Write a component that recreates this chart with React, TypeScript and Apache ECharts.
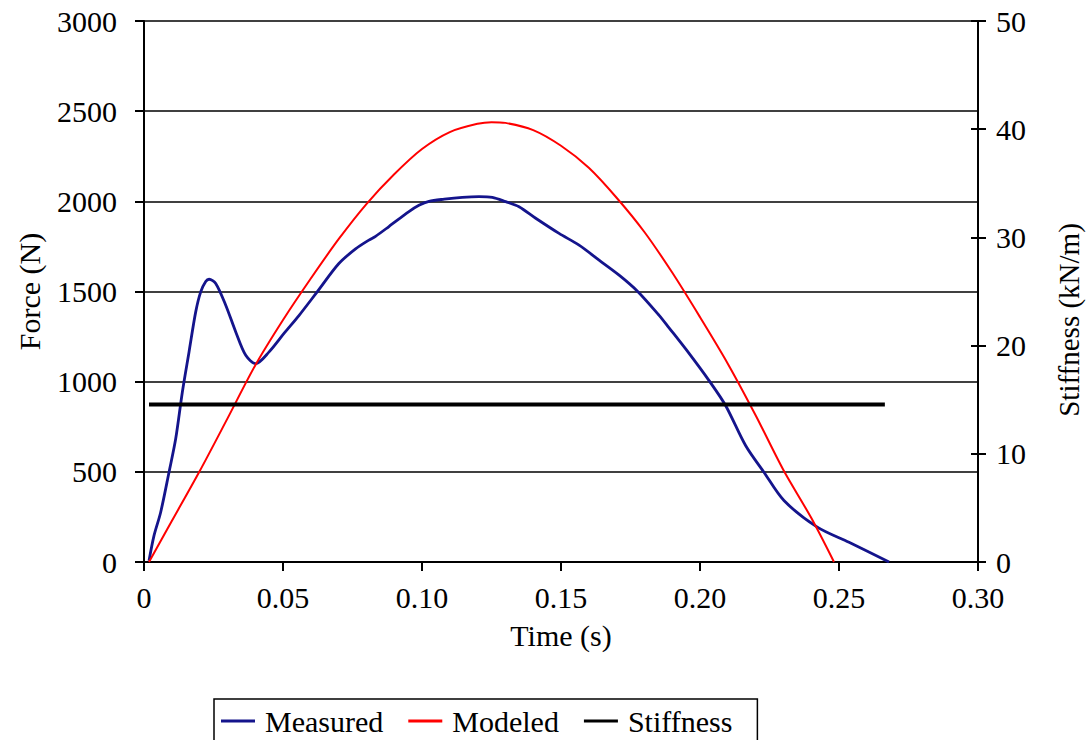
import React, { useEffect, useRef } from "react";
import * as echarts from "echarts";

const measuredTime = [0.0018, 0.0036, 0.006, 0.009, 0.0114, 0.0138, 0.0162, 0.0186, 0.0204, 0.0222, 0.0234, 0.0258, 0.0294, 0.033, 0.0366, 0.0402, 0.045, 0.0505, 0.0558, 0.0623, 0.0701, 0.0761, 0.0809, 0.0833, 0.0881, 0.0953, 0.0989, 0.1025, 0.108, 0.1145, 0.1205, 0.1253, 0.1301, 0.1349, 0.1409, 0.1493, 0.1565, 0.1637, 0.1709, 0.1775, 0.1853, 0.1888, 0.196, 0.2032, 0.2092, 0.2164, 0.223, 0.2302, 0.2422, 0.2536, 0.268];
const measuredForce = [7, 146, 276, 498, 683, 943, 1165, 1387, 1498, 1555, 1568, 1545, 1424, 1276, 1146, 1100, 1165, 1270, 1368, 1498, 1655, 1736, 1785, 1806, 1860, 1943, 1978, 2000, 2012, 2022, 2026, 2022, 1998, 1970, 1906, 1822, 1757, 1674, 1591, 1502, 1368, 1300, 1158, 1007, 868, 646, 498, 341, 193, 109, 0];

const modeledTime = [0.0018, 0.01, 0.02, 0.03, 0.04, 0.05, 0.06, 0.07, 0.08, 0.09, 0.1, 0.11, 0.12, 0.125, 0.13, 0.14, 0.15, 0.16, 0.17, 0.18, 0.19, 0.2, 0.21, 0.22, 0.23, 0.24, 0.2482];
const modeledForce = [0, 227, 503, 795, 1090, 1342, 1572, 1790, 1985, 2150, 2290, 2384, 2430, 2439, 2435, 2395, 2308, 2186, 2020, 1830, 1605, 1358, 1100, 814, 510, 245, 0];

const stiffnessTime = [0.0018, 0.2665];
const stiffnessValue = [14.55, 14.55];

const seriesNames = ["Measured", "Modeled", "Stiffness"];
const FONT = "'Liberation Serif', 'Times New Roman', serif";

export default function App() {
  const ref = useRef<HTMLDivElement>(null);
  useEffect(() => {
    if (!ref.current) return;
    const chart = echarts.init(ref.current, null, { renderer: "svg" });
    const zip = (a: number[], b: number[]) => a.map((v, i) => [v, b[i]]);
    const txt = { fontFamily: FONT, fontSize: 30, color: "#000" };
    chart.setOption({
      animation: false,
      backgroundColor: "#fff",
      textStyle: { fontFamily: FONT },
      grid: { left: 144, right: 110, top: 21, bottom: 178 },
      xAxis: {
        type: "value",
        min: 0,
        max: 0.3,
        interval: 0.05,
        name: "Time (s)",
        nameLocation: "middle",
        nameGap: 58,
        nameTextStyle: txt,
        axisLine: { show: true, onZero: false, lineStyle: { color: "#000", width: 2 } },
        axisTick: { show: true, length: 9, lineStyle: { color: "#000", width: 2 } },
        axisLabel: {
          ...txt,
          margin: 20,
          formatter: (v: number) => (v === 0 ? "0" : v.toFixed(2)),
        },
        splitLine: { show: false },
      },
      yAxis: [
        {
          type: "value",
          min: 0,
          max: 3000,
          interval: 500,
          name: "Force (N)",
          nameLocation: "middle",
          nameGap: 100,
          nameTextStyle: txt,
          axisLine: { show: true, lineStyle: { color: "#000", width: 2 } },
          axisTick: { show: true, length: 9, lineStyle: { color: "#000", width: 2 } },
          axisLabel: { ...txt, margin: 27, formatter: (v: number) => String(v) },
          splitLine: { show: true, lineStyle: { color: "#000", width: 1.5 } },
        },
        {
          type: "value",
          position: "right",
          min: 0,
          max: 50,
          interval: 10,
          axisLine: { show: true, lineStyle: { color: "#000", width: 2 } },
          axisTick: { show: true, length: 8, lineStyle: { color: "#000", width: 2 } },
          axisLabel: { ...txt, margin: 18, formatter: (v: number) => String(v) },
          splitLine: { show: false },
        },
        {
          type: "value",
          position: "right",
          min: 0,
          max: 50,
          interval: 10,
          axisLine: { show: false },
          axisTick: { show: true, inside: true, length: 7, lineStyle: { color: "#000", width: 2 } },
          axisLabel: { show: false },
          splitLine: { show: false },
        },
      ],
      legend: {
        left: 214,
        top: 699,
        orient: "horizontal",
        backgroundColor: "#fff",
        borderColor: "#000",
        borderWidth: 1.5,
        borderRadius: 0,
        padding: [7, 25, 24, 7],
        itemGap: 25,
        itemWidth: 34,
        itemHeight: 14,
        textStyle: { ...txt, padding: [0, 0, 0, 5] },
        data: [
          { name: seriesNames[0], icon: "path://M0,0 L34,0 L34,3 L0,3 Z", itemStyle: { color: "#14148C" } },
          { name: seriesNames[1], icon: "path://M0,0 L34,0 L34,3 L0,3 Z", itemStyle: { color: "#FF0000" } },
          { name: seriesNames[2], icon: "path://M0,0 L34,0 L34,3 L0,3 Z", itemStyle: { color: "#000" } },
        ],
      },
      series: [
        {
          name: seriesNames[0],
          type: "line",
          yAxisIndex: 0,
          data: zip(measuredTime, measuredForce),
          showSymbol: false,
          symbol: "none",
          smooth: 0.3,
          lineStyle: { color: "#14148C", width: 2.8 },
          itemStyle: { color: "#14148C" },
          z: 3,
        },
        {
          name: seriesNames[1],
          type: "line",
          yAxisIndex: 0,
          data: zip(modeledTime, modeledForce),
          showSymbol: false,
          symbol: "none",
          smooth: 0.3,
          lineStyle: { color: "#FF0000", width: 2 },
          itemStyle: { color: "#FF0000" },
          z: 4,
        },
        {
          name: seriesNames[2],
          type: "line",
          yAxisIndex: 1,
          data: zip(stiffnessTime, stiffnessValue),
          showSymbol: false,
          symbol: "none",
          lineStyle: { color: "#000", width: 4 },
          itemStyle: { color: "#000" },
          z: 5,
        },
      ],
      graphic: [
        {
          type: "text",
          x: 1069,
          y: 320,
          rotation: Math.PI / 2,
          style: {
            text: "Stiffness (kN/m)",
            font: `29px ${FONT}`,
            fill: "#000",
            textAlign: "center",
            textVerticalAlign: "middle",
          },
        },
      ],
    });
    return () => chart.dispose();
  }, []);
  return (
    <div
      ref={ref}
      style={{ position: "fixed", left: 0, top: 0, width: 1088, height: 740, background: "#fff" }}
    />
  );
}
